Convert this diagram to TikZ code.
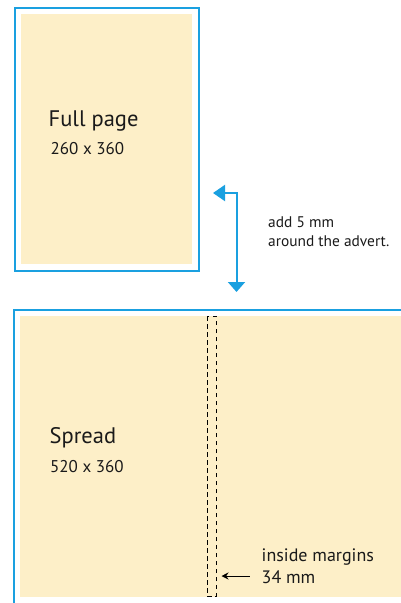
\documentclass[tikz,border=0pt]{standalone}
\usepackage{fontspec}
\setmainfont{PT Sans}
\usetikzlibrary{arrows.meta}
\definecolor{hpblue}{HTML}{1AA0E0}
\definecolor{cream}{HTML}{FDEFC8}
\definecolor{txt}{HTML}{1A1A1A}
\tikzset{
  bluebox/.style={draw=hpblue, line width=2pt},
  creamfill/.style={fill=cream, draw=none},
  title/.style={anchor=base west, inner sep=0pt, font=\fontsize{22.5}{26}\selectfont, text=txt},
  dims/.style={anchor=base west, inner sep=0pt, font=\fontsize{17}{20}\selectfont, text=txt},
  note/.style={anchor=base west, inner sep=0pt, font=\fontsize{15.4}{18}\selectfont, text=txt},
  bignote/.style={anchor=base west, inner sep=0pt, font=\fontsize{18}{21}\selectfont, text=txt},
  gutter/.style={draw=black, line width=0.8pt, dash pattern=on 4.5pt off 3.5pt},
}
\begin{document}
\begin{tikzpicture}[x=1pt,y=-1pt]
\useasboundingbox (0,0) rectangle (401,603);
\begin{scope}
\clip (0,0) rectangle (401,603);
% top: full page
\draw[bluebox] (14.5,8) rectangle (198.5,270.5);
\fill[creamfill] (21,14) rectangle (192,264);
\node[title] (fp) at (48.5,126) {Full page};
\node[dims] (fpd) at (50.5,154.3) {260 x 360};
% arrow
\coordinate (al) at (213,193);
\coordinate (ac) at (236.5,193);
\coordinate (ab) at (236.5,292);
\draw[hpblue, line width=2pt, {Triangle[width=16pt,length=12pt]}-{Triangle[width=17pt,length=10pt]}] (al) -- (ac) -- (ab);
\node[note] (n1) at (268,227.7) {add 5 mm};
\node[note] (n2) at (268,246.7) {around the advert.};
% bottom: spread
\draw[bluebox] (13.5,309.5) rectangle (420,620);
\fill[creamfill] (20,316) rectangle (410,597);
\draw[gutter] (207,316) rectangle (216,596);
\node[title] (sp) at (49.5,443) {Spread};
\node[dims] (spd) at (50,472) {520 x 360};
\coordinate (mt) at (221.5,576);
\coordinate (mf) at (249.5,576);
\draw[black, line width=1pt, -{Stealth[length=7pt,width=7pt]}] (mf) -- (mt);
\node[bignote] (m1) at (261.5,561.5) {inside margins};
\node[bignote] (m2) at (261.5,583.2) {34 mm};
\end{scope}
\end{tikzpicture}
\end{document}
